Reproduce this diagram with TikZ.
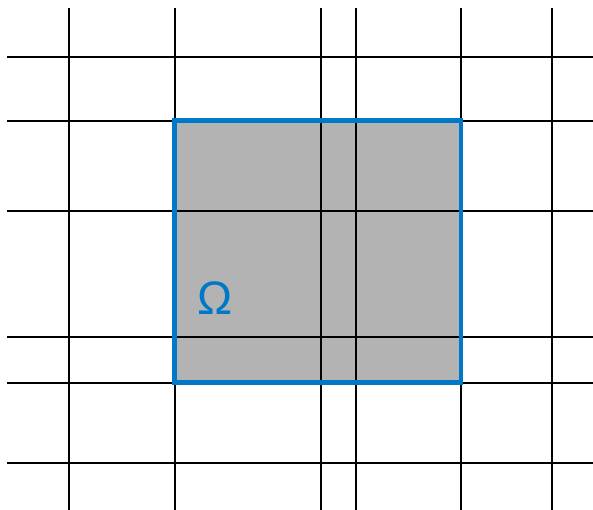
\documentclass[tikz,border=0pt]{standalone}
\usepackage{fontspec}
\newfontfamily\omegafont{Liberation Sans}
\definecolor{regionblue}{RGB}{0,120,200}
\definecolor{regiongray}{RGB}{179,179,179}
\tikzset{
  gridline/.style={draw=black, line width=1.4pt},
  region/.style={fill=regiongray, draw=none},
  regionborder/.style={draw=regionblue, line width=4.4pt, line join=miter},
  labeltext/.style={text=regionblue, font=\omegafont\fontsize{47}{47}\selectfont, inner sep=0pt}
}
\begin{document}
\begin{tikzpicture}[x=1pt,y=-1pt]
\useasboundingbox (0,0) rectangle (593,510);
\coordinate (r1) at (174.5,120.5);
\coordinate (r2) at (461,382.5);
\fill[region] (r1) rectangle (r2);
\foreach \x in {69,175,321,356,461,552} {
  \coordinate (vt\x) at (\x,8);
  \coordinate (vb\x) at (\x,510);
  \draw[gridline] (vt\x) -- (vb\x);
}
\foreach \y in {57,121,211,337,383,463} {
  \coordinate (hl\y) at (7,\y);
  \coordinate (hr\y) at (593,\y);
  \draw[gridline] (hl\y) -- (hr\y);
}
\draw[regionborder] (r1) rectangle (r2);
\node[labeltext] (omega) at (215,298) {Ω};
\end{tikzpicture}
\end{document}
